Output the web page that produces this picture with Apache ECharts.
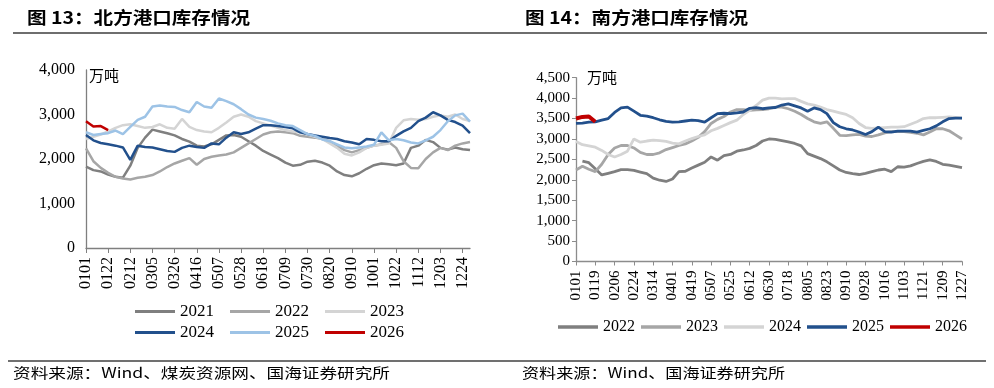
<!DOCTYPE html>
<html><head><meta charset="utf-8">
<script src="https://cdn.jsdelivr.net/npm/echarts@6/dist/echarts.min.js"></script>
<style>html,body{margin:0;padding:0;background:#fff;}#c{width:994px;height:388px;}</style>
</head><body><div id="c"></div>
<script>
// ---------- Left chart (北方港口) weekly categories ----------
var northDates = ['0101','0108','0115','0122','0129','0205','0212','0219','0226','0305','0312','0319','0326','0402','0409','0416','0423','0430','0507','0514','0521','0528','0604','0611','0618','0625','0702','0709','0716','0723','0730','0806','0813','0820','0827','0903','0910','0917','0924','1001','1008','1015','1022','1029','1105','1112','1119','1126','1203','1210','1217','1224','1231'];
var north2021 = [1830,1750,1720,1650,1600,1580,1850,2250,2480,2660,2620,2580,2530,2450,2390,2300,2280,2330,2430,2530,2540,2500,2400,2300,2180,2100,2020,1920,1850,1870,1940,1960,1920,1850,1720,1640,1610,1680,1780,1860,1900,1880,1860,1900,2250,2300,2430,2380,2250,2210,2260,2220,2200];
var north2022 = [2240,1950,1800,1690,1600,1560,1540,1580,1600,1640,1720,1820,1900,1960,2020,1870,2000,2050,2080,2100,2150,2250,2350,2450,2550,2600,2620,2600,2580,2520,2500,2480,2450,2400,2300,2200,2150,2200,2250,2300,2330,2380,2250,1950,1800,1790,2000,2150,2250,2200,2300,2350,2380];
var north2023 = [2450,2500,2550,2620,2700,2760,2780,2740,2700,2720,2780,2700,2680,2900,2720,2650,2620,2600,2700,2820,2950,3000,2950,2850,2800,2750,2700,2650,2620,2600,2550,2500,2450,2350,2250,2120,2080,2150,2250,2300,2320,2350,2700,2870,2900,2880,2900,2950,2980,2950,3000,2900,2850];
var north2024 = [2540,2420,2360,2330,2300,2260,1980,2300,2270,2260,2220,2180,2160,2250,2300,2270,2250,2350,2330,2480,2600,2560,2600,2680,2760,2760,2740,2720,2690,2600,2560,2530,2500,2470,2450,2400,2370,2330,2450,2430,2400,2400,2520,2620,2700,2850,2930,3050,2980,2880,2830,2750,2580];
var north2025 = [2600,2540,2560,2580,2640,2560,2720,2880,2950,3180,3200,3180,3170,3100,3050,3280,3180,3150,3360,3300,3230,3120,3000,2930,2900,2860,2800,2760,2740,2650,2560,2520,2440,2400,2330,2260,2240,2260,2280,2320,2600,2420,2450,2420,2370,2350,2420,2500,2650,2850,2980,3020,2840];
var north2026 = [2850,2730,2740,2650];

// ---------- Right chart (南方港口) 6-day categories ----------
var southDates = ['0101','0107','0113','0119','0125','0131','0206','0212','0218','0224','0302','0308','0314','0320','0326','0401','0407','0413','0419','0425','0501','0507','0513','0519','0525','0531','0606','0612','0618','0624','0630','0706','0712','0718','0724','0730','0805','0811','0817','0823','0829','0904','0910','0916','0922','0928','1004','1010','1016','1022','1028','1103','1109','1115','1121','1127','1203','1209','1215','1221','1227'];
var south2022 = [null,2460,2420,2270,2120,2160,2200,2250,2250,2230,2190,2150,2040,1990,1960,2020,2200,2210,2290,2360,2430,2560,2480,2590,2620,2700,2730,2770,2840,2950,3000,2990,2960,2930,2890,2830,2640,2580,2520,2440,2340,2240,2180,2150,2130,2160,2200,2240,2260,2200,2320,2310,2340,2400,2450,2490,2450,2380,2360,2330,2300];
var south2023 = [2240,2330,2260,2200,2380,2620,2780,2840,2840,2780,2670,2620,2620,2660,2740,2790,2840,2880,2950,3040,3180,3380,3480,3550,3660,3720,3720,3700,3710,3720,3740,3780,3780,3740,3680,3600,3500,3420,3380,3420,3260,3090,3080,3100,3110,3070,3060,3100,3150,3180,3180,3180,3160,3140,3100,3170,3250,3250,3200,3100,3000];
var south2024 = [2940,2860,2830,2800,2720,2620,2560,2620,2700,3000,2920,2950,2970,2960,2940,2900,2880,2950,3010,3060,3100,3200,3260,3330,3400,3460,3600,3700,3820,3950,4000,4000,3980,3990,3990,3920,3860,3830,3780,3720,3680,3640,3600,3520,3380,3280,3260,3270,3280,3290,3290,3300,3360,3420,3500,3520,3520,3530,3540,3530,3510];
var south2025 = [3380,3390,3410,3420,3460,3500,3650,3760,3780,3680,3580,3560,3520,3470,3430,3410,3420,3440,3460,3450,3410,3520,3620,3630,3620,3640,3660,3750,3770,3740,3760,3770,3830,3860,3810,3760,3680,3760,3720,3620,3400,3300,3250,3220,3170,3110,3180,3290,3180,3170,3190,3190,3190,3170,3210,3250,3320,3420,3500,3510,3510];
var south2026 = [3500,3540,3550,3420];

var leftYears = ['2021','2022','2023','2024','2025','2026'];
var rightYears = ['2022','2023','2024','2025','2026'];
var leftUnit = '万吨', rightUnit = '万吨';
var titleLeft = '图 13：北方港口库存情况';
var titleRight = '图 14：南方港口库存情况';
var sourceLeft = '资料来源：Wind、煤炭资源网、国海证券研究所';
var sourceRight = '资料来源：Wind、国海证券研究所';

var cDark = '#7f7f7f', cMid = '#a6a6a6', cLight = '#d4d4d4', cNavy = '#22508c', cSky = '#9dc3e6', cRed = '#c00000';
var serif = '"Liberation Serif","Times New Roman",serif';
var cjk = '"Noto Sans CJK SC","Noto Sans",sans-serif';

var mctx = document.createElement('canvas').getContext('2d');
function fitText(str, x, y, targetW, size, weight, fill) {
  var font = (weight || 'normal') + ' ' + size + 'px ' + cjk;
  mctx.font = font;
  var w = mctx.measureText(str).width;
  return { type: 'text', x: x, y: y, scaleX: targetW / w,
    style: { text: str, fontSize: size, fontWeight: weight || 'normal', fontFamily: cjk, fill: fill || '#000', verticalAlign: 'middle', align: 'left' } };
}

function mkLine(name, data, color, width, xi, yi) {
  return { name: name, type: 'line', data: data, xAxisIndex: xi, yAxisIndex: yi,
    symbol: 'none', showSymbol: false, connectNulls: false, color: color,
    lineStyle: { color: color, width: width }, emphasis: { disabled: true }, animation: false };
}

var chart = echarts.init(document.getElementById('c'), null, { renderer: 'canvas' });
var fmt = function (v) { return v.toLocaleString('en-US'); };

var option = {
  animation: false,
  backgroundColor: '#fff',
  grid: [
    { left: 86, right: 524, top: 70, bottom: 140 },
    { left: 576, right: 32, top: 77.7, bottom: 126.5 }
  ],
  xAxis: [
    { type: 'category', gridIndex: 0, data: northDates, boundaryGap: false,
      axisLine: { lineStyle: { color: '#7f7f7f', width: 1.3 } },
      axisTick: { show: true, interval: 2, length: 5, lineStyle: { color: '#7f7f7f' } },
      axisLabel: { interval: 2, rotate: 90, margin: 9, fontFamily: serif, fontSize: 16, color: '#000' },
      splitLine: { show: false } },
    { type: 'category', gridIndex: 1, data: southDates, boundaryGap: false,
      axisLine: { lineStyle: { color: '#8c8c8c', width: 1.3 } },
      axisTick: { show: true, interval: 2, length: 4, lineStyle: { color: '#8c8c8c' } },
      axisLabel: { interval: 2, rotate: 90, margin: 9, fontFamily: serif, fontSize: 15, color: '#000' },
      splitLine: { show: false } }
  ],
  yAxis: [
    { type: 'value', gridIndex: 0, min: 0, max: 4000, interval: 1000,
      axisLine: { show: true, lineStyle: { color: '#7f7f7f', width: 1.3 } },
      axisTick: { show: false }, splitLine: { show: false },
      axisLabel: { formatter: fmt, margin: 11, fontFamily: serif, fontSize: 16, color: '#000' } },
    { type: 'value', gridIndex: 1, min: 0, max: 4500, interval: 500,
      axisLine: { show: true, lineStyle: { color: '#8c8c8c', width: 1.3 } },
      axisTick: { show: true, length: 4, lineStyle: { color: '#8c8c8c' } }, splitLine: { show: false },
      axisLabel: { formatter: fmt, margin: 6, fontFamily: serif, fontSize: 15, color: '#000' } }
  ],
  legend: [
    { data: leftYears.slice(0, 3), left: 130, top: 298, icon: 'rect', itemWidth: 40, itemHeight: 3, itemGap: 16,
      selectedMode: false, textStyle: { fontFamily: serif, fontSize: 17, color: '#000' } },
    { data: leftYears.slice(3), left: 130, top: 319, icon: 'rect', itemWidth: 40, itemHeight: 3, itemGap: 16,
      selectedMode: false, textStyle: { fontFamily: serif, fontSize: 17, color: '#000' } },
    { data: rightYears.map(function (y) { return 'S' + y; }), left: 553, top: 314, icon: 'rect', itemWidth: 40, itemHeight: 3.5, itemGap: 6,
      selectedMode: false, formatter: function (n) { return n.slice(1); },
      textStyle: { fontFamily: serif, fontSize: 16, color: '#000' } }
  ],
  series: [
    mkLine('2021', north2021, cDark, 2.5, 0, 0),
    mkLine('2022', north2022, cMid, 2.5, 0, 0),
    mkLine('2023', north2023, cLight, 2.5, 0, 0),
    mkLine('2024', north2024, cNavy, 2.5, 0, 0),
    mkLine('2025', north2025, cSky, 2.5, 0, 0),
    mkLine('2026', north2026, cRed, 2.5, 0, 0),
    mkLine('S2022', south2022, cDark, 2.8, 1, 1),
    mkLine('S2023', south2023, cMid, 2.8, 1, 1),
    mkLine('S2024', south2024, cLight, 2.8, 1, 1),
    mkLine('S2025', south2025, cNavy, 2.8, 1, 1),
    mkLine('S2026', south2026, cRed, 4, 1, 1)
  ],
  graphic: [
    fitText(titleLeft, 27, 18, 223, 17, 'bold'),
    fitText(titleRight, 525, 18, 223, 17, 'bold'),
    { type: 'line', shape: { x1: 13, y1: 33, x2: 987, y2: 33 }, style: { stroke: '#6e6e6e', lineWidth: 1.8 } },
    { type: 'line', shape: { x1: 8, y1: 361, x2: 986, y2: 361 }, style: { stroke: '#404040', lineWidth: 1.5 } },
    fitText(sourceLeft, 13, 373, 377, 14, 'normal'),
    fitText(sourceRight, 522, 373, 263, 14, 'normal'),
    { type: 'text', x: 89, y: 75, style: { text: leftUnit, fontSize: 15, fontFamily: cjk, fill: '#000', verticalAlign: 'middle' } },
    { type: 'text', x: 587, y: 77, style: { text: rightUnit, fontSize: 15, fontFamily: cjk, fill: '#000', verticalAlign: 'middle' } }
  ]
};
chart.setOption(option);
</script>
</body></html>
